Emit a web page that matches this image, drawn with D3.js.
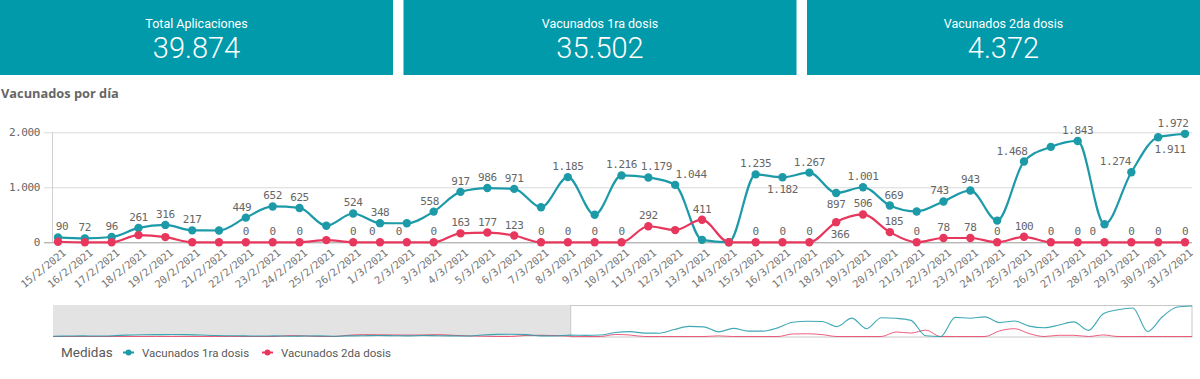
<!DOCTYPE html>
<html><head><meta charset="utf-8">
<script src="https://cdn.jsdelivr.net/npm/d3@7"></script>
<style>body{margin:0;background:#fff;overflow:hidden}svg{display:block}</style>
</head><body>
<svg id="c" width="1200" height="379"></svg>
<script>
// ---------- DATA ----------
const kpiTitles = ["Total Aplicaciones", "Vacunados 1ra dosis", "Vacunados 2da dosis"];
const kpiValues = [39874, 35502, 4372];
const chartTitle = "Vacunados por día";
const seriesNames = ["Vacunados 1ra dosis", "Vacunados 2da dosis"];
const legendTitle = "Medidas";
const dates = ["15/2/2021","16/2/2021","17/2/2021","18/2/2021","19/2/2021","20/2/2021","21/2/2021","22/2/2021","23/2/2021","24/2/2021","25/2/2021","26/2/2021",
  "1/3/2021","2/3/2021","3/3/2021","4/3/2021","5/3/2021","6/3/2021","7/3/2021","8/3/2021","9/3/2021","10/3/2021",
  "11/3/2021","12/3/2021","13/3/2021","14/3/2021","15/3/2021","16/3/2021","17/3/2021","18/3/2021","19/3/2021","20/3/2021",
  "21/3/2021","22/3/2021","23/3/2021","24/3/2021","25/3/2021","26/3/2021","27/3/2021","28/3/2021","29/3/2021","30/3/2021","31/3/2021"];
const dosis1 = [90,72,96,261,316,217,215,449,652,625,300,524,
  348,346,558,917,986,971,636,1185,500,1216,
  1179,1044,45,0,1235,1182,1267,897,1001,669,
  561,743,943,395,1468,1735,1843,327,1274,1911,1972];
const dosis2 = [10,0,0,130,95,0,0,0,0,0,40,0,
  0,0,0,163,177,123,0,0,0,0,
  292,222,411,0,0,0,0,366,506,185,
  0,78,78,0,100,0,0,0,0,0,0];
// which data labels are visible in the chart (1 = shown)
const labels1Shown = [1,1,1,1,1,1,0,1,1,1,0,1, 1,0,1,1,1,1,0,1,0,1, 1,1,0,0,1,1,1,1,1,1, 0,1,1,0,1,0,1,0,1,1,1];
const labels2Shown = [0,0,0,0,0,0,0,1,1,1,0,1, 1,1,1,1,1,1,1,1,1,1, 1,0,1,0,1,1,1,1,1,1, 1,1,1,1,1,1,1,1,1,1,1];
// earlier days only visible in the overview strip (estimated)
const earlier1 = [20,30,40,30,50,90,110,120,130,120,100,60,50,40,30,40,20,30,40,20,40,50,60,50,40,60,50,40,30,100,140,150,120,40,30];
const earlier2 = [0,0,0,0,0,0,0,0,0,0,0,0,0,0,0,0,60,40,0,0,80,120,110,100,90,100,120,80,40,20,0,0,70,80,60];
const yTicks = [0, 1000, 2000];

// ---------- SETUP ----------
const COL1 = "#1d9aa8", COL2 = "#e8375d", TILE = "#009aab";
const MONO = "'DejaVu Sans Mono', monospace";
const SANS = "Roboto, 'Open Sans', sans-serif";
const svg = d3.select("#c");
const loc = d3.formatLocale({decimal: ",", thousands: ".", grouping: [3], currency: ["$", ""]});
const fmt = loc.format(",d");

// ---------- KPI TILES ----------
const band = d3.scaleBand().domain(kpiTitles).range([0, 1200]).paddingInner(0.026);
const tiles = svg.selectAll("g.kpi").data(kpiTitles).join("g").attr("class", "kpi")
  .attr("transform", d => `translate(${band(d)},0)`);
tiles.append("rect").attr("width", band.bandwidth()).attr("height", 75).attr("fill", TILE);
tiles.append("text").attr("x", band.bandwidth() / 2).attr("y", 28).attr("text-anchor", "middle")
  .attr("fill", "#fff").attr("font-family", SANS).attr("font-size", 12.5).text(d => d);
tiles.append("text").attr("x", band.bandwidth() / 2).attr("y", 57.5).attr("text-anchor", "middle")
  .attr("fill", "#fff").attr("font-family", SANS).attr("font-weight", 300).attr("font-size", 29)
  .text((d, i) => fmt(kpiValues[i]));

// ---------- TITLE ----------
svg.append("text").attr("x", 1).attr("y", 98).attr("font-family", "'Open Sans', sans-serif").attr("font-weight", 700)
  .attr("font-size", 12.8).attr("fill", "#666").text(chartTitle);

// ---------- MAIN CHART ----------
const PL = 52.5, PR = 1192;
const x = d3.scalePoint().domain(dates).range([58, 1185]);
const y = d3.scaleLinear().domain([0, 2000]).range([242.3, 132.3]);

const yAxis = svg.append("g").attr("transform", "translate(44,0)")
  .call(d3.axisLeft(y).tickValues(yTicks).tickFormat(fmt).tickSize(-(PR - 44)).tickPadding(4));
yAxis.select(".domain").remove();
yAxis.selectAll(".tick line").attr("stroke", d => d === 0 ? "#999" : "#d9d9d9");
yAxis.selectAll(".tick text").attr("font-family", MONO).attr("font-size", 11).attr("fill", "#666")
  .attr("letter-spacing", -0.4);
svg.append("line").attr("x1", PL).attr("x2", PL).attr("y1", y(2000)).attr("y2", y(0)).attr("stroke", "#d0d0d0");

const xAxis = svg.append("g").attr("transform", `translate(0,${y(0)})`)
  .call(d3.axisBottom(x).tickSize(0).tickPadding(0));
xAxis.select(".domain").remove();
xAxis.selectAll(".tick text").attr("font-family", MONO).attr("font-size", 10.5).attr("fill", "#777")
  .attr("text-anchor", "end").attr("dy", 0).attr("x", 8).attr("y", 12)
  .attr("transform", "rotate(-39,8,12)").attr("letter-spacing", -0.3);

const line = d3.line().x((d, i) => x(dates[i])).y(d => y(d)).curve(d3.curveMonotoneX);
const series = [{v: dosis1, c: COL1, shown: labels1Shown}, {v: dosis2, c: COL2, shown: labels2Shown}];
const paths = series.map(s => svg.append("path").datum(s.v).attr("d", line).attr("fill", "none")
  .attr("stroke", s.c).attr("stroke-width", 2.2));
series.forEach(s => {
  svg.append("g").selectAll("circle").data(s.v).join("circle")
    .attr("cx", (d, i) => x(dates[i])).attr("cy", d => y(d)).attr("r", 4.2).attr("fill", s.c);
});

// ---------- DATA LABELS (collision-avoiding placement) ----------
const samples = [];
paths.forEach(p => {
  const n = p.node(), L = n.getTotalLength();
  for (let l = 0; l <= L; l += 1) samples.push(n.getPointAtLength(l));
});
const pts = [];
series.forEach(s => s.v.forEach((d, i) => pts.push({x: x(dates[i]), y: y(d)})));
const placed = [];
function overlaps(a, b) { return a.x0 < b.x1 && a.x1 > b.x0 && a.y0 < b.y1 && a.y1 > b.y0; }
function cost(b) {
  let c = 0;
  if (b.x0 < PL || b.x1 > PR || b.y0 < 112 || b.y1 > 243) c += 1000;
  for (const p of samples) if (p.x >= b.x0 && p.x <= b.x1 && p.y >= b.y0 - 1.2 && p.y <= b.y1 + 1.2) c += 10;
  for (const q of pts) {
    const cx = Math.max(b.x0, Math.min(q.x, b.x1)), cy = Math.max(b.y0, Math.min(q.y, b.y1));
    if ((cx - q.x) ** 2 + (cy - q.y) ** 2 < 4.5 * 4.5) c += 10;
  }
  for (const o of placed) if (overlaps(b, o)) c += 100;
  return c;
}
const labelItems = [];
series.forEach(s => s.v.forEach((d, i) => { if (s.shown[i]) labelItems.push({v: d, i, s}); }));
labelItems.sort((a, b) => b.v - a.v);
const lg = svg.append("g");
const shifts = [0, -4, 4, -8, 8, -12, 12, -16, 16];
labelItems.forEach(it => {
  const px = x(dates[it.i]), py = y(it.v);
  const t = lg.append("text").attr("font-family", MONO).attr("font-size", 11).attr("letter-spacing", -0.4)
    .attr("fill", "#666").attr("text-anchor", "middle").text(fmt(it.v));
  const w = t.node().getComputedTextLength();
  const cands = [];
  shifts.forEach(dx => cands.push({cx: px + dx, by: py - 7}));
  shifts.forEach(dx => cands.push({cx: px + dx, by: py + 15.5}));
  cands.push({cx: px + 7 + w / 2, by: py + 4});
  cands.push({cx: px - 7 - w / 2, by: py + 4});
  let best = null, bestC = Infinity;
  for (const c of cands) {
    const b = {x0: c.cx - w / 2 - 1, x1: c.cx + w / 2 + 1, y0: c.by - 9, y1: c.by + 1};
    const k = cost(b);
    if (k < bestC) { bestC = k; best = {c, b}; }
    if (k === 0) break;
  }
  placed.push(best.b);
  t.attr("x", best.c.cx).attr("y", best.c.by);
});

// ---------- OVERVIEW STRIP ----------
const all1 = earlier1.concat(dosis1), all2 = earlier2.concat(dosis2);
const mx = d3.scaleLinear().domain([0, all1.length - 1]).range([53, 1192]);
const my = d3.scaleLinear().domain([0, d3.max(all1)]).range([336.5, 306]);
const selStart = mx(earlier1.length);
svg.append("rect").attr("x", 53).attr("y", 305).attr("width", selStart - 53).attr("height", 32).attr("fill", "#e3e3e3");
svg.append("rect").attr("x", selStart).attr("y", 305.5).attr("width", 1192 - selStart).attr("height", 31.5)
  .attr("fill", "none").attr("stroke", "#c8c8c8");
const mline = d3.line().x((d, i) => mx(i)).y(d => my(d)).curve(d3.curveMonotoneX);
svg.append("path").datum(all2).attr("d", mline).attr("fill", "none").attr("stroke", COL2).attr("stroke-width", 1).attr("opacity", 0.8);
svg.append("path").datum(all1).attr("d", mline).attr("fill", "none").attr("stroke", COL1).attr("stroke-width", 1.1).attr("opacity", 0.85);

// ---------- LEGEND ----------
const leg = svg.append("g").attr("transform", "translate(61,357)");
leg.append("text").attr("font-family", SANS).attr("font-size", 13.5).attr("fill", "#595959").text(legendTitle);
const legX = [62, 201];
seriesNames.forEach((n, i) => {
  const g = leg.append("g").attr("transform", `translate(${legX[i]},-4.5)`);
  g.append("line").attr("x1", 0).attr("x2", 11).attr("stroke", [COL1, COL2][i]).attr("stroke-width", 2);
  g.append("circle").attr("cx", 5.5).attr("r", 3).attr("fill", [COL1, COL2][i]);
  g.append("text").attr("x", 19).attr("y", 4.5).attr("font-family", SANS).attr("font-size", 11.5)
    .attr("fill", "#595959").text(n);
});
</script>
</body></html>
